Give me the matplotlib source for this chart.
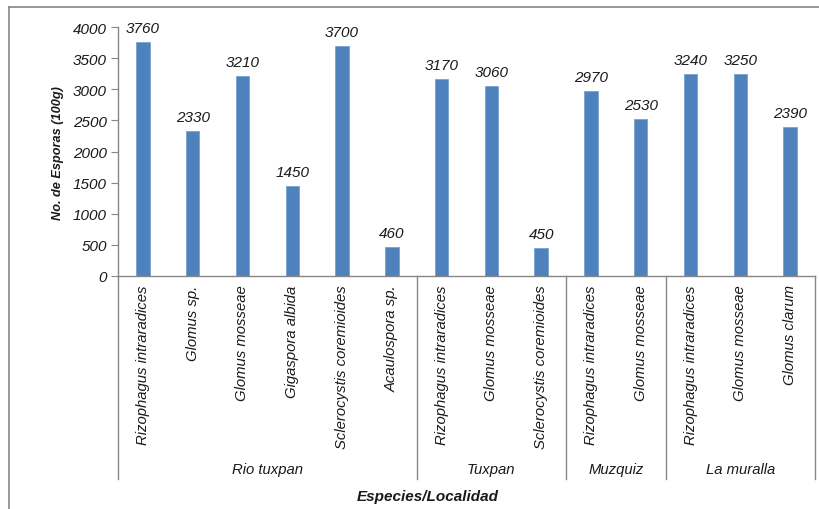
import matplotlib.pyplot as plt
from matplotlib.lines import Line2D
import matplotlib.transforms as mtransforms

plt.rcParams['font.family'] = ['Liberation Sans', 'DejaVu Sans']

# data
species = ['Rizophagus intraradices', 'Glomus sp.', 'Glomus mosseae', 'Gigaspora albida',
           'Sclerocystis coremioides', 'Acaulospora sp.',
           'Rizophagus intraradices', 'Glomus mosseae', 'Sclerocystis coremioides',
           'Rizophagus intraradices', 'Glomus mosseae',
           'Rizophagus intraradices', 'Glomus mosseae', 'Glomus clarum']
esporas = [3760, 2330, 3210, 1450, 3700, 460,
           3170, 3060, 450,
           2970, 2530,
           3240, 3250, 2390]
localidades = ['Rio tuxpan', 'Tuxpan', 'Muzquiz', 'La muralla']
n_por_localidad = [6, 3, 2, 3]

bar_color = '#4F81BD'
axis_color = '#868686'
txt = '#1a1a1a'

fig = plt.figure(figsize=(8.2, 5.1), dpi=100)
ax = fig.add_axes([118/820, 1-277/510, (815-118)/820, (277-28)/510])

x = list(range(len(esporas)))
ax.bar(x, esporas, width=0.27, color=bar_color, edgecolor='#6f9bd0', linewidth=0.5, zorder=2)

for xi, v in zip(x, esporas):
    ax.annotate(str(v), (xi, v), xytext=(0, 5), textcoords='offset points',
                ha='center', va='bottom', fontsize=11, style='italic', color=txt)

ax.set_xlim(-0.5, len(esporas) - 0.5)
ax.set_ylim(0, 4000)
ax.set_yticks(range(0, 4001, 500))
ax.tick_params(axis='y', direction='out', length=5, color=axis_color, labelsize=11,
               labelcolor=txt, pad=3)
for lab in ax.get_yticklabels():
    lab.set_style('italic')

ax.set_xticks(x)
ax.set_xticklabels(species, rotation=90, fontsize=10.7, style='italic', color=txt)
ax.tick_params(axis='x', length=0, pad=6)

for s in ['top', 'right']:
    ax.spines[s].set_visible(False)
for s in ['left', 'bottom']:
    ax.spines[s].set_color(axis_color)
    ax.spines[s].set_linewidth(1)

# group separators and labels
trans = mtransforms.blended_transform_factory(ax.transData, ax.transAxes)
y_low = (277 - 480) / (277 - 28)
y_grp = (277 - 470) / (277 - 28)
start = 0
bounds = [-0.5]
for name, n in zip(localidades, n_por_localidad):
    center = start + (n - 1) / 2
    ax.text(center, y_grp, name, transform=trans, ha='center', va='center',
            fontsize=10.7, style='italic', color=txt)
    start += n
    bounds.append(start - 0.5)
for b in bounds:
    ax.add_line(Line2D([b, b], [0, y_low], transform=trans, color=axis_color,
                       lw=1, clip_on=False))

fig.text(58/820, 1-153/510, 'No. de Esporas (100g)', rotation=90, ha='center', va='center',
         fontsize=9.2, fontweight='bold', style='italic', color=txt)
fig.text(428/820, 1-497/510, 'Especies/Localidad', ha='center', va='center',
         fontsize=11, fontweight='bold', style='italic', color=txt)

# chart area border
fig.add_artist(Line2D([9/820, 9/820], [0, 1-8/510], transform=fig.transFigure,
                      color=axis_color, lw=1.2))
fig.add_artist(Line2D([9/820, 1], [1-8/510, 1-8/510], transform=fig.transFigure,
                      color=axis_color, lw=1.2))

fig.savefig('out.png', dpi=100)
